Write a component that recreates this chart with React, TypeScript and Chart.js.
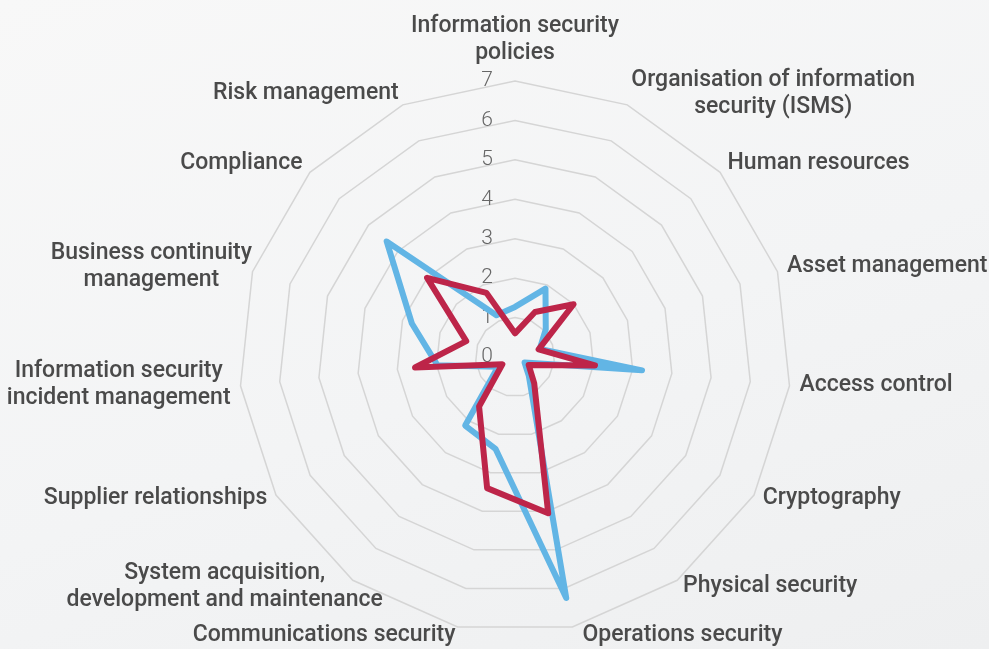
import { useEffect, useRef } from 'react';
import { Chart, registerables } from 'chart.js';

Chart.register(...registerables);

const categories: string[][] = [
  ['Information security', 'policies'],
  ['Organisation of information', 'security (ISMS)'],
  ['Human resources'],
  ['Asset management'],
  ['Access control'],
  ['Cryptography'],
  ['Physical security'],
  ['Operations security'],
  ['Communications security'],
  ['System acquisition,', 'development and maintenance'],
  ['Supplier relationships'],
  ['Information security', 'incident management'],
  ['Business continuity', 'management'],
  ['Compliance'],
  ['Risk management'],
];

const blueValues = [1.27, 1.9, 1.05, 0.66, 3.24, 0.28, 0.6, 6.25, 2.38, 2.15, 0.5, 1.98, 2.75, 4.38, 1.16];
const redValues = [0.6, 1.25, 2.0, 0.63, 2.04, 0.4, 0.83, 4.05, 3.4, 1.55, 0.37, 2.55, 1.3, 3.0, 1.78];
const tickValues = [0, 1, 2, 3, 4, 5, 6, 7];

const LABEL_FONT = '500 23px Roboto';
const TICK_FONT = '300 21px Roboto';
const labelNudgeX = [0, 0, 0, 0, 0, 0, 0, 8, 0, 36, 0, 0, 9, 0, 0];

const labelsPlugin = {
  id: 'customLabels',
  beforeDatasetsDraw(chart: any) {
    const scale = chart.scales.r;
    const ctx: CanvasRenderingContext2D = chart.ctx;
    ctx.save();
    ctx.font = TICK_FONT;
    ctx.fillStyle = '#666666';
    ctx.textAlign = 'center';
    ctx.textBaseline = 'middle';
    tickValues.forEach((v) => {
      const d = scale.getDistanceFromCenterForValue(v);
      ctx.fillText(String(v), scale.xCenter - 28, scale.yCenter - d);
    });

    ctx.font = LABEL_FONT;
    ctx.fillStyle = '#4a4a4a';
    const lineH = 27;
    const n = categories.length;
    categories.forEach((lines, i) => {
      const p = scale.getPointPosition(i, scale.drawingArea + 10);
      const angleDeg = (i * 360) / n;
      const bw = Math.max(...lines.map((l) => ctx.measureText(l).width));
      const bh = lines.length * lineH;
      let cx: number;
      let cy: number;
      if (angleDeg === 0) {
        cx = p.x;
        cy = p.y - 4 - bh / 2;
      } else if (angleDeg < 180) {
        cx = p.x + bw / 2;
        cy = p.y - 2;
      } else {
        cx = p.x - bw / 2;
        cy = p.y - 2;
      }
      cx += labelNudgeX[i];
      lines.forEach((l, k) => {
        ctx.fillText(l, cx, cy - bh / 2 + lineH * (k + 0.5));
      });
    });
    ctx.restore();
  },
};

export default function App() {
  const ref = useRef<HTMLCanvasElement>(null);
  useEffect(() => {
    if (!ref.current) return;
    const chart = new Chart(ref.current, {
      type: 'radar',
      data: {
        labels: categories,
        datasets: [
          {
            label: 'Series 2',
            data: redValues,
            borderColor: '#bd2549',
            backgroundColor: 'transparent',
            borderWidth: 6,
            borderJoinStyle: 'round',
            pointRadius: 0,
            fill: false,
            tension: 0,
          },
          {
            label: 'Series 1',
            data: blueValues,
            borderColor: '#62b5e5',
            backgroundColor: 'transparent',
            borderWidth: 6,
            borderJoinStyle: 'round',
            pointRadius: 0,
            fill: false,
            tension: 0,
          },
        ],
      },
      options: {
        responsive: false,
        animation: false,
        layout: { padding: { left: 239, right: 198, top: 81, bottom: 16 } },
        plugins: { legend: { display: false }, tooltip: { enabled: false } },
        scales: {
          r: {
            min: 0,
            max: 7,
            ticks: { stepSize: 1, display: false },
            grid: { color: '#d5d5d5', lineWidth: 1.5 },
            angleLines: { display: false },
            pointLabels: { display: false },
          },
        },
      },
      plugins: [labelsPlugin],
    });
    return () => chart.destroy();
  }, []);

  return (
    <div
      style={{
        position: 'fixed',
        left: 0,
        top: 0,
        width: 989,
        height: 649,
        background: 'linear-gradient(160deg, #f8f8f8 0%, #f3f4f5 55%, #eeeff0 100%)',
      }}
    >
      <canvas ref={ref} width={989} height={649} style={{ display: 'block' }} />
    </div>
  );
}
